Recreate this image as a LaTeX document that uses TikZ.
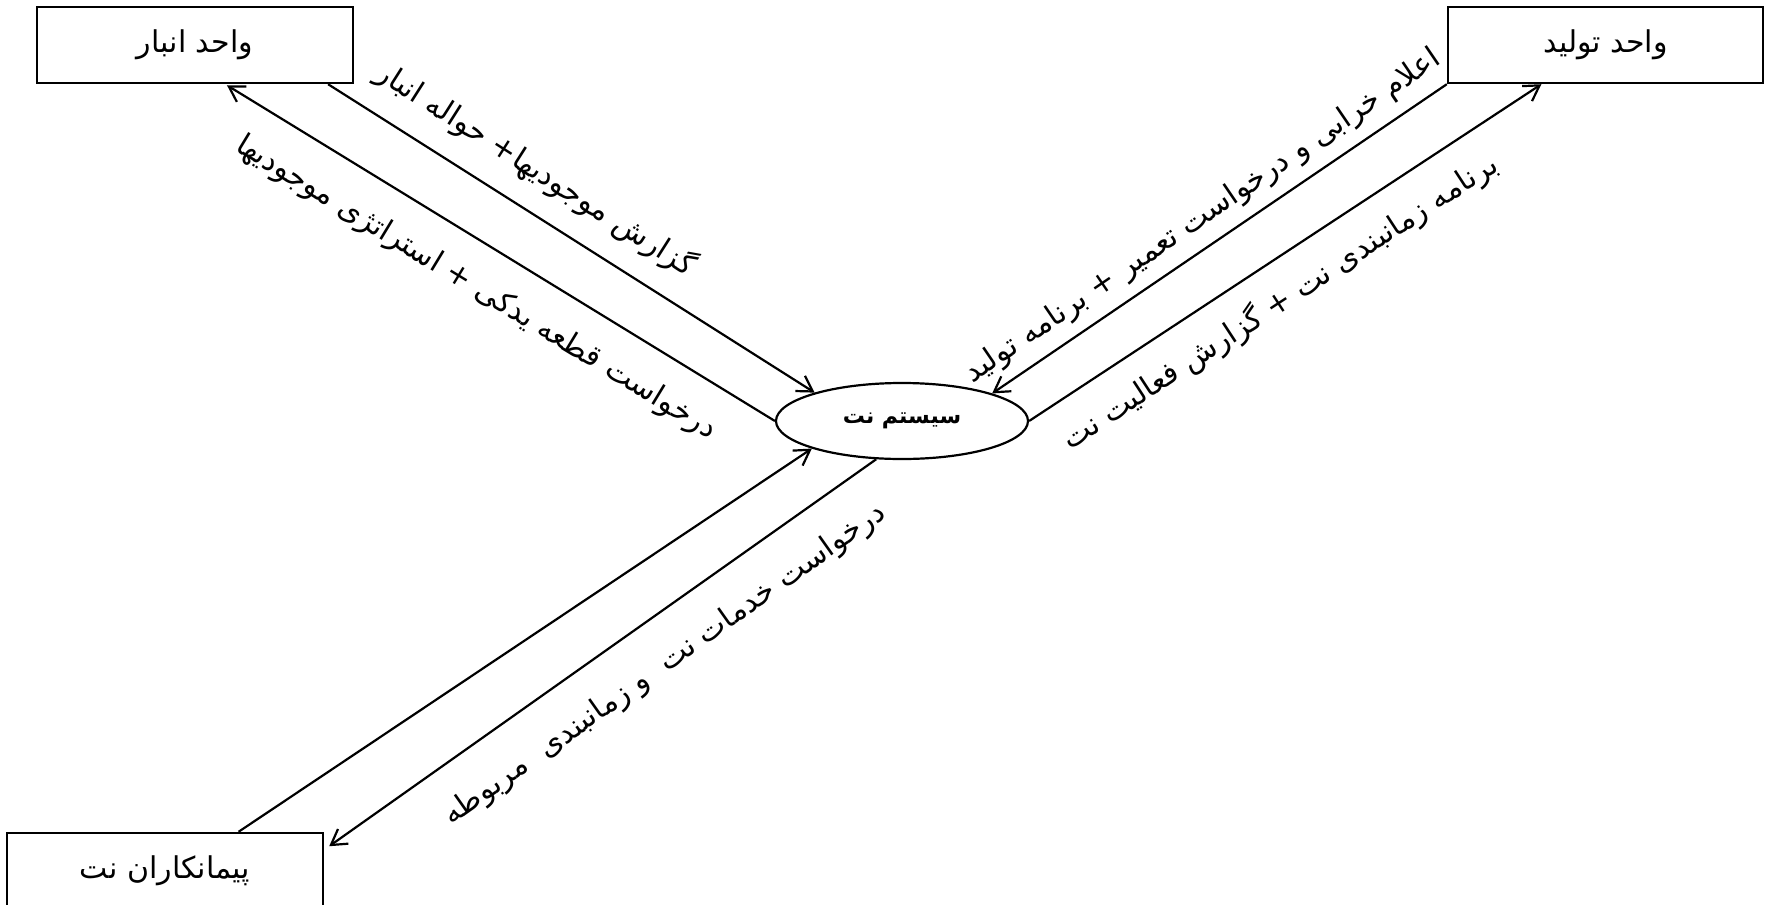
\documentclass[tikz,border=0pt]{standalone}
\usepackage{fontspec}
\newfontfamily\fa[Script=Arabic]{DejaVu Sans}
\TeXXeTstate=1
\usetikzlibrary{arrows.meta,shapes.geometric,calc}
\begin{document}
\begin{tikzpicture}[x=0.5pt,y=-0.5pt,
  box/.style={draw,line width=1.2pt,minimum width=158pt,minimum height=38pt,inner sep=0pt,font=\fa\fontsize{15pt}{18pt}\selectfont},
  flow/.style={line width=1.1pt,-{Straight Barb[length=7.5pt,width=9pt,line width=1.1pt]}},
  lbl/.style={font=\fa\fontsize{15pt}{18pt}\selectfont,inner sep=0pt}]
\clip (0,0) rectangle (1768,905);
\node[box] (anbar) at (195,45) {\beginR واحد انبار\endR};
\node[box,minimum width=157.5pt] (tolid) at (1605.5,45) {\beginR واحد تولید\endR};
\node[box] (peyman) at (165,871) {\beginR پیمانکاران نت\endR};
\node[draw,ellipse,line width=1.1pt,minimum width=126pt,minimum height=38pt,inner sep=0pt,font=\fa\bfseries\fontsize{11pt}{13pt}\selectfont] (sys) at (902,421) {\beginR سیستم نت\endR};
\draw[flow] ($(anbar.south west)!0.918!(anbar.south east)$) -- (sys.162.5);
\draw[flow,shorten >=1pt] (sys.180) -- ($(anbar.south west)!0.595!(anbar.south east)$);
\draw[flow] (tolid.south west) -- (sys.17);
\draw[flow] (sys.0) -- ($(tolid.south west)!0.298!(tolid.south east)$);
\draw[flow] ($(peyman.north west)!0.731!(peyman.north east)$) -- (sys.197.5);
\draw[flow] (sys.236) -- ($(peyman.north east)!0.184!(peyman.south east)+(5,0)$);
\node[lbl,rotate=-32.5] (l1) at (536,169) {\beginR گزارش موجودیها+ حواله انبار\endR};
\node[lbl,rotate=-31.3] (l2) at (476,288) {\beginR درخواست قطعه یدکی + استراتژی موجودیها\endR};
\node[lbl,rotate=34.3] (l3) at (1203,217) {\beginR اعلام خرابی و درخواست تعمیر + برنامه تولید\endR};
\node[lbl,rotate=33.2] (l4) at (1280,302) {\beginR برنامه زمانبندی نت + گزارش فعالیت نت\endR};
\node[lbl,rotate=35.3] (l6) at (665,665) {\beginR درخواست خدمات نت\ \ و زمانبندی\ \ مربوطه\endR};
\end{tikzpicture}
\end{document}
